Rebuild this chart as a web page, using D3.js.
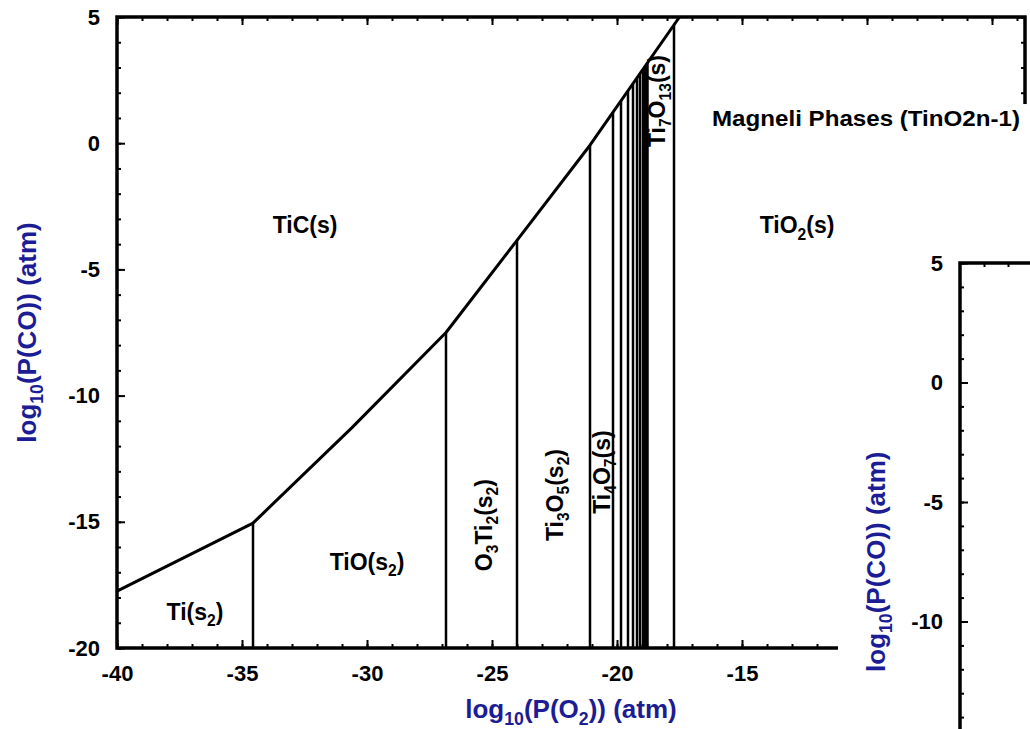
<!DOCTYPE html>
<html>
<head>
<meta charset="utf-8">
<script src="https://cdn.jsdelivr.net/npm/d3@7"></script>
<style>
  body { margin: 0; background: #fff; }
  text { font-family: "Liberation Sans", Arial, sans-serif; font-weight: bold; }
</style>
</head>
<body>
<div id="chart"></div>
<script>
// upper boundary of the Ti / oxide fields against TiC(s)
const boundaryO2 = [-40, -34.56, -30.6, -26.84, -24.0, -21.08, -17.5];
const boundaryCO = [-17.75, -15.05, -11.27, -7.5, -3.85, -0.08, 5];

// vertical phase boundaries, log10 P(O2)
const phaseEdges = [-34.56, -26.84, -24.0, -21.08, -20.16, -19.84, -19.56,
  -19.36, -19.2, -19.08, -18.96, -18.9, -18.84, -18.78, -17.72];

// field labels ("_n" = subscript)
const regionNames = ['TiC(s)', 'TiO_2(s)', 'Ti(s_2)', 'TiO(s_2)',
  'O_3Ti_2(s_2)', 'Ti_3O_5(s_2)', 'Ti_4O_7(s)', 'Ti_7O_13(s)'];
const regionO2 = [-32.48, -12.8, -36.88, -30, -25.0, -22.16, -20.28, -18.08];
const regionCO = [-3.56, -3.56, -18.89, -16.91, -15.13, -13.94, -13.03, 1.67];
const regionUpright = [true, true, true, true, false, false, false, false];

const xTickLabels = [-40, -35, -30, -25, -20, -15];
const yTickLabels = [5, 0, -5, -10, -15, -20];
const insetTickLabels = [5, 0, -5, -10];

const magneliText = 'Magneli Phases (TinO2n-1)';
const xTitle = 'log_10(P(O_2)) (atm)';
const yTitle = 'log_10(P(CO)) (atm)';

const W = 1030, H = 729;
const titleColor = '#1c1c94';

const svg = d3.select('#chart').append('svg')
    .attr('width', W)
    .attr('height', H);

const x = d3.scaleLinear().domain([-40, -3.68]).range([117, 1025]);
const y = d3.scaleLinear().domain([-20, 5]).range([648, 17]);
const boundary = d3.scaleLinear().domain(boundaryO2).range(boundaryCO).clamp(true);

// plain hyphen minus, like the original
const fmt = d => String(d);

// writes a string into a text node, "_123" becomes a subscript
function rich(text, str, size) {
  const parts = str.split(/(_\d+)/).filter(s => s);
  let low = false;
  parts.forEach(p => {
    const sub = p[0] === '_';
    const t = text.append('tspan').text(sub ? p.slice(1) : p);
    if (sub) {
      t.attr('font-size', size * 0.68);
      if (!low) t.attr('dy', size * 0.28);
    } else if (low) {
      t.attr('dy', -size * 0.28);
    }
    low = sub;
  });
}

function tickAxis(g, axis, size, labels) {
  g.call(axis.tickSize(size).tickPadding(17))
    .call(a => a.select('.domain').remove())
    .call(a => a.selectAll('.tick line').attr('stroke', '#000').attr('stroke-width', 2))
    .call(a => a.selectAll('.tick text')
        .attr('fill', '#000')
        .attr('font-size', 22)
        .style('display', labels ? null : 'none'));
}

const main = svg.append('g');

// minor and major ticks, all pointing inward
const minorX = d3.range(-40, -3, 1);
const majorX = d3.range(-40, -3, 5);
const minorY = d3.range(-20, 6, 1);
const majorY = d3.range(-20, 6, 5);

main.append('g').attr('transform', `translate(0,${y(-20)})`)
    .call(g => tickAxis(g, d3.axisBottom(x).tickValues(minorX), -4, false));
main.append('g').attr('transform', `translate(0,${y(-20)})`)
    .call(g => tickAxis(g, d3.axisBottom(x).tickValues(xTickLabels).tickFormat(fmt), -8, true));
main.append('g').attr('transform', `translate(0,${y(5)})`)
    .call(g => tickAxis(g, d3.axisTop(x).tickValues(minorX), -4, false));
main.append('g').attr('transform', `translate(0,${y(5)})`)
    .call(g => tickAxis(g, d3.axisTop(x).tickValues(majorX), -8, false));
main.append('g').attr('transform', `translate(${x(-40)},0)`)
    .call(g => tickAxis(g, d3.axisLeft(y).tickValues(minorY), -4, false));
main.append('g').attr('transform', `translate(${x(-40)},0)`)
    .call(g => tickAxis(g, d3.axisLeft(y).tickValues(yTickLabels).tickFormat(fmt), -8, true));
main.append('g').attr('transform', `translate(${x.range()[1]},0)`)
    .call(g => tickAxis(g, d3.axisRight(y).tickValues(minorY), -4, false));
main.append('g').attr('transform', `translate(${x.range()[1]},0)`)
    .call(g => tickAxis(g, d3.axisRight(y).tickValues(majorY), -8, false));

// phase boundaries
main.selectAll('.edge')
  .data(phaseEdges)
  .join('line')
    .attr('class', 'edge')
    .attr('stroke', '#000')
    .attr('stroke-width', 2.5)
    .attr('x1', d => x(d))
    .attr('x2', d => x(d))
    .attr('y1', y(-20))
    .attr('y2', d => y(boundary(d)));

main.append('path')
    .datum(d3.zip(boundaryO2, boundaryCO))
    .attr('fill', 'none')
    .attr('stroke', '#000')
    .attr('stroke-width', 3)
    .attr('stroke-linejoin', 'round')
    .attr('d', d3.line().x(d => x(d[0])).y(d => y(d[1])));

// frame
main.append('rect')
    .attr('x', x(-40))
    .attr('y', y(5))
    .attr('width', x.range()[1] - x(-40))
    .attr('height', y(-20) - y(5))
    .attr('fill', 'none')
    .attr('stroke', '#000')
    .attr('stroke-width', 3.5);

// field labels
regionNames.forEach((name, i) => {
  const px = x(regionO2[i]);
  const py = y(regionCO[i]);
  const t = main.append('text')
      .attr('font-size', 23)
      .attr('fill', '#000')
      .attr('text-anchor', 'middle')
      .attr('transform', regionUpright[i]
        ? `translate(${px},${py})`
        : `translate(${px},${py}) rotate(-90)`);
  rich(t, name, 23);
});

// axis titles
const xt = main.append('text')
    .attr('x', d3.mean(x.range()))
    .attr('y', 718)
    .attr('text-anchor', 'middle')
    .attr('font-size', 26)
    .attr('fill', titleColor);
rich(xt, xTitle, 26);

const yt = main.append('text')
    .attr('transform', `translate(36,${d3.mean(y.range())}) rotate(-90)`)
    .attr('text-anchor', 'middle')
    .attr('font-size', 26)
    .attr('fill', titleColor);
rich(yt, yTitle, 26);

// the second diagram pasted over the lower right corner
svg.append('rect')
    .attr('x', 838)
    .attr('y', 150)
    .attr('width', W - 838)
    .attr('height', H - 150)
    .attr('fill', '#fff');

const inset = svg.append('g');
const x2 = d3.scaleLinear().domain([-40, -35]).range([960, 1080]);
const y2 = d3.scaleLinear().domain([-20, 5]).range([263 + 25 * 23.9, 263]);

inset.append('g').attr('transform', `translate(${x2(-40)},0)`)
    .call(g => tickAxis(g, d3.axisLeft(y2).tickValues(minorY), -4, false));
inset.append('g').attr('transform', `translate(${x2(-40)},0)`)
    .call(g => tickAxis(g, d3.axisLeft(y2).tickValues(insetTickLabels).tickFormat(fmt), -8, true));
inset.append('g').attr('transform', `translate(0,${y2(5)})`)
    .call(g => tickAxis(g, d3.axisTop(x2).tickValues(d3.range(-39, -36, 1)), -4, false));

inset.append('path')
    .attr('fill', 'none')
    .attr('stroke', '#000')
    .attr('stroke-width', 3.5)
    .attr('d', `M${W + 5},${y2(5)}H${x2(-40)}V${H + 5}`);

const it = inset.append('text')
    .attr('transform', `translate(885,${d3.mean(y2.range())}) rotate(-90)`)
    .attr('text-anchor', 'middle')
    .attr('font-size', 26)
    .attr('fill', titleColor);
rich(it, yTitle, 26);

// Magneli label sits on its own white box
const mx = x(-16.2), my = y(0.68);
svg.append('rect')
    .attr('x', mx - 7)
    .attr('y', my - 22)
    .attr('width', W - mx + 7)
    .attr('height', 46)
    .attr('fill', '#fff');
svg.append('text')
    .attr('x', mx)
    .attr('y', my)
    .attr('font-size', 22)
    .attr('textLength', 308)
    .attr('lengthAdjust', 'spacingAndGlyphs')
    .attr('fill', '#000')
    .text(magneliText);
</script>
</body>
</html>
